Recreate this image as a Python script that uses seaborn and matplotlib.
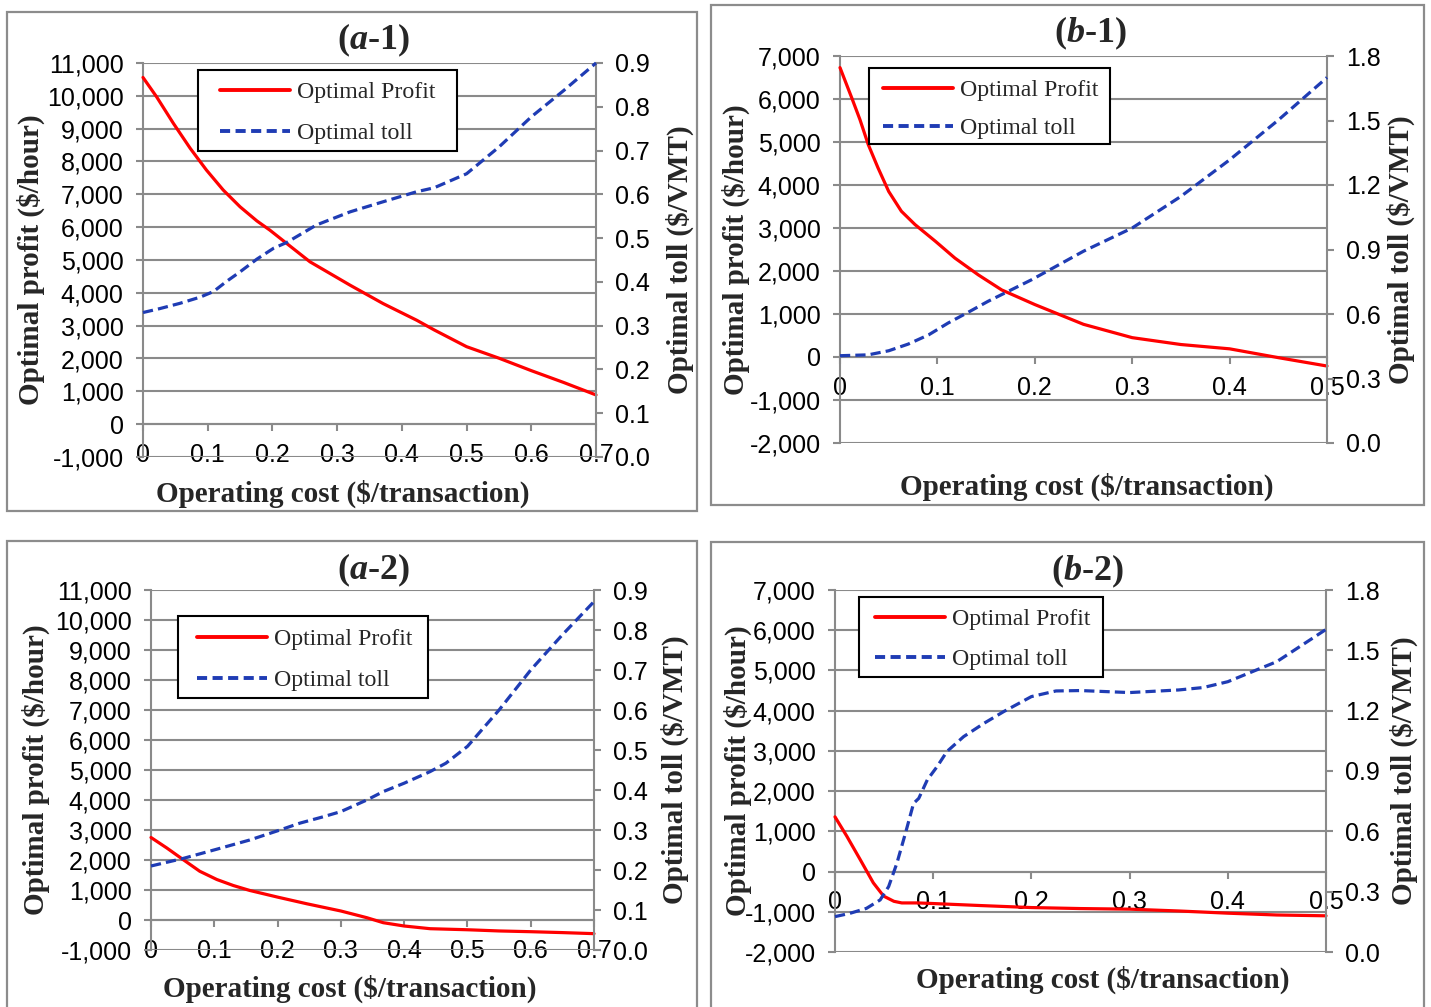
import numpy as np
import pandas as pd
import matplotlib
matplotlib.use("Agg")
import matplotlib.pyplot as plt
import seaborn as sns
from matplotlib.patches import Rectangle
from matplotlib.lines import Line2D
from matplotlib.ticker import FuncFormatter, MultipleLocator

# ---------------- data ----------------
# (a-1)
a1_cost = [0, 0.021, 0.047, 0.073, 0.098, 0.124, 0.15, 0.176, 0.196, 0.222, 0.258, 0.32,
           0.371, 0.423, 0.45, 0.5, 0.55, 0.6, 0.65, 0.7]
a1_profit = [10560, 9970, 9160, 8400, 7740, 7130, 6620, 6190, 5910, 5505, 4945, 4233,
             3673, 3165, 2870, 2360, 2010, 1630, 1270, 890]
a1_toll_cost = [0, 0.026, 0.057, 0.088, 0.109, 0.129, 0.15, 0.176, 0.202, 0.222, 0.268, 0.32,
                0.371, 0.423, 0.45, 0.5, 0.55, 0.6, 0.65, 0.7]
a1_toll = [0.330, 0.339, 0.351, 0.365, 0.378, 0.401, 0.423, 0.452, 0.477, 0.490, 0.530, 0.560,
           0.583, 0.606, 0.615, 0.647, 0.708, 0.777, 0.837, 0.900]

# (b-1)
b1_cost = [0, 0.012, 0.0205, 0.029, 0.039, 0.05, 0.063, 0.077, 0.098, 0.118, 0.142, 0.166, 0.2,
           0.25, 0.3, 0.35, 0.4, 0.45, 0.5]
b1_profit = [6730, 6030, 5520, 4940, 4400, 3850, 3390, 3080, 2690, 2300, 1910, 1560, 1220,
             760, 450, 290, 190, -15, -210]
b1_toll_cost = [0, 0.029, 0.05, 0.07, 0.091, 0.111, 0.132, 0.152, 0.173, 0.197, 0.25, 0.3,
                0.35, 0.4, 0.45, 0.5]
b1_toll = [0.406, 0.410, 0.429, 0.460, 0.503, 0.558, 0.609, 0.659, 0.706, 0.760, 0.892, 1.000,
           1.147, 1.317, 1.502, 1.700]

# (a-2)
a2_cost = [0, 0.025, 0.051, 0.077, 0.104, 0.13, 0.156, 0.2, 0.246, 0.3, 0.341, 0.367, 0.4,
           0.441, 0.5, 0.55, 0.6, 0.65, 0.7]
a2_profit = [2750, 2400, 2010, 1625, 1350, 1150, 985, 763, 542, 300, 77, -90, -200,
             -290, -325, -365, -390, -420, -455]
a2_toll_cost = [0, 0.051, 0.104, 0.156, 0.2, 0.235, 0.272, 0.3, 0.341, 0.367, 0.4, 0.441,
                0.466, 0.5, 0.55, 0.6, 0.65, 0.7]
a2_toll = [0.210, 0.229, 0.252, 0.275, 0.298, 0.317, 0.333, 0.346, 0.375, 0.396, 0.417, 0.446,
           0.467, 0.509, 0.600, 0.700, 0.788, 0.871]

# (b-2)
b2_cost = [0, 0.012, 0.0256, 0.039, 0.0495, 0.06, 0.068, 0.084, 0.1, 0.148, 0.2, 0.25, 0.3,
           0.35, 0.4, 0.45, 0.5]
b2_profit = [1360, 880, 300, -280, -610, -740, -780, -780, -795, -845, -895, -920, -935,
             -980, -1035, -1080, -1100]
b2_toll_cost = [0, 0.015, 0.032, 0.046, 0.0546, 0.063, 0.0717, 0.08, 0.0853, 0.094, 0.104,
                0.114, 0.131, 0.152, 0.172, 0.2, 0.225, 0.25, 0.3, 0.35, 0.375, 0.4, 0.45, 0.5]
b2_toll = [0.176, 0.192, 0.217, 0.259, 0.325, 0.441, 0.590, 0.739, 0.764, 0.856, 0.922, 0.997,
           1.071, 1.138, 1.196, 1.270, 1.298, 1.300, 1.290, 1.303, 1.315, 1.344, 1.444, 1.604]

legend_labels = ["Optimal Profit", "Optimal toll"]
xlabel_text = "Operating cost ($/transaction)"
ylabel_left = "Optimal profit ($/hour)"
ylabel_right = "Optimal toll ($/VMT)"

# ---------------- style ----------------
sns.set_theme(style="white")
plt.rcParams["font.family"] = ["Liberation Sans", "DejaVu Sans"]
plt.rcParams["mathtext.fontset"] = "custom"
plt.rcParams["mathtext.rm"] = "Liberation Serif"
plt.rcParams["mathtext.it"] = "Liberation Serif:italic"
plt.rcParams["mathtext.bf"] = "Liberation Serif:bold"
plt.rcParams["mathtext.bfit"] = "Liberation Serif:bold:italic"

GRID = "#8a8a8a"
RED = "#ff0000"
BLUE = "#1f3cb4"
SERIF = "Liberation Serif"
TICK_FS = 18
LAB_FS = 21
LEG_FS = 17.2

W, H = 1431, 1007
fig = plt.figure(figsize=(W / 100, H / 100), dpi=100)
fig.patch.set_facecolor("white")


def fx(px):
    return px / W


def fy(py):
    return 1 - py / H


def frame(x0, y0, x1, y1):
    fig.patches.append(Rectangle((fx(x0), fy(y1)), fx(x1) - fx(x0), fy(y0) - fy(y1),
                                 transform=fig.transFigure, fill=False,
                                 edgecolor="#8c8c8c", linewidth=1.6, zorder=0))


def comma(v, pos):
    s = "{:,.0f}".format(abs(v))
    return ("-" + s) if v < -1e-9 else s


def xfmt(v, pos):
    if abs(v) < 1e-9:
        return "0"
    return "{:.1f}".format(v)


panels = [
    dict(title="a", num="1", cost=a1_cost, profit=a1_profit, tcost=a1_toll_cost, toll=a1_toll,
         box=(143, 63, 596, 457), frame=(7, 12, 697, 511), xmax=0.7,
         ylim=(-1000, 11000), ystep=1000, rlim=(0, 0.9), rstep=0.1,
         leg=(198, 70, 457, 151, 220, 90, 131), lab_l=45, lab_r=666, xl=(343, 480), tt=(373, 40)),
    dict(title="b", num="1", cost=b1_cost, profit=b1_profit, tcost=b1_toll_cost, toll=b1_toll,
         box=(840, 56, 1327, 443), frame=(711, 5, 1424, 505), xmax=0.5,
         ylim=(-2000, 7000), ystep=1000, rlim=(0, 1.8), rstep=0.3,
         leg=(869, 68, 1110, 144, 883, 88, 126), lab_l=750, lab_r=1387, xl=(1087, 473), tt=(1090, 33)),
    dict(title="a", num="2", cost=a2_cost, profit=a2_profit, tcost=a2_toll_cost, toll=a2_toll,
         box=(151, 590, 594, 950), frame=(7, 541, 697, 1030), xmax=0.7,
         ylim=(-1000, 11000), ystep=1000, rlim=(0, 0.9), rstep=0.1,
         leg=(178, 616, 428, 698, 197, 637, 678), lab_l=50, lab_r=661, xl=(350, 975), tt=(373, 570)),
    dict(title="b", num="2", cost=b2_cost, profit=b2_profit, tcost=b2_toll_cost, toll=b2_toll,
         box=(835, 590, 1326, 952), frame=(711, 542, 1424, 1030), xmax=0.5,
         ylim=(-2000, 7000), ystep=1000, rlim=(0, 1.8), rstep=0.3,
         leg=(859, 597, 1103, 677, 875, 617, 657), lab_l=752, lab_r=1390, xl=(1103, 966), tt=(1087, 571)),
]

for p in panels:
    frame(*p["frame"])
    x0, y0, x1, y1 = p["box"]
    bw, bh = x1 - x0, y1 - y0

    def axx(px):
        return (px - x0) / bw

    def axy(py):
        return (y1 - py) / bh

    ax = fig.add_axes([fx(x0), fy(y1), fx(x1) - fx(x0), fy(y0) - fy(y1)])
    ax.set_facecolor("none")
    ax2 = ax.twinx()

    df_p = pd.DataFrame({"cost": p["cost"], "profit": p["profit"]})
    df_t = pd.DataFrame({"cost": p["tcost"], "toll": p["toll"]})
    sns.lineplot(data=df_p, x="cost", y="profit", ax=ax, color=RED, linewidth=2.3,
                 zorder=5, clip_on=False)
    sns.lineplot(data=df_t, x="cost", y="toll", ax=ax2, color=BLUE, linewidth=2.3,
                 zorder=5, clip_on=False)
    for ln in ax.lines + ax2.lines:
        ln.set_solid_joinstyle("round")
        ln.set_dash_joinstyle("round")
    ax2.lines[0].set_dashes((3.2, 1.6))

    ax.set_xlim(0, p["xmax"])
    ax.set_ylim(*p["ylim"])
    ax2.set_ylim(*p["rlim"])
    ax.yaxis.set_major_locator(MultipleLocator(p["ystep"]))
    ax.xaxis.set_major_locator(MultipleLocator(0.1))
    ax2.yaxis.set_major_locator(MultipleLocator(p["rstep"]))
    ax.yaxis.set_major_formatter(FuncFormatter(comma))
    ax.xaxis.set_major_formatter(FuncFormatter(xfmt))
    ax2.yaxis.set_major_formatter(FuncFormatter(lambda v, pos: "{:.1f}".format(v)))

    ax.grid(True, axis="y", color=GRID, linewidth=1.5)
    ax.grid(False, axis="x")
    ax2.grid(False)
    ax.set_axisbelow(True)

    for s in ["top", "right"]:
        ax.spines[s].set_visible(False)
    for s in ["top", "left", "bottom"]:
        ax2.spines[s].set_visible(False)
    ax.spines["left"].set_color(GRID)
    ax.spines["left"].set_linewidth(1.5)
    ax.spines["bottom"].set_position(("data", 0))
    ax.spines["bottom"].set_color(GRID)
    ax.spines["bottom"].set_linewidth(1.5)
    ax2.spines["right"].set_color(GRID)
    ax2.spines["right"].set_linewidth(1.5)

    ax.tick_params(axis="y", direction="out", length=5, width=1.5, color=GRID,
                   pad=9, labelsize=TICK_FS, labelcolor="black", left=True)
    ax.tick_params(axis="x", direction="out", length=5, width=1.5, color=GRID,
                   pad=8.5, labelsize=TICK_FS, labelcolor="black", bottom=True)
    ax2.tick_params(axis="y", direction="out", length=5, width=1.5, color=GRID,
                    pad=9, labelsize=TICK_FS, labelcolor="black", right=True)

    ax.set_xlabel(xlabel_text, fontfamily=SERIF, fontweight="bold", fontsize=LAB_FS)
    ax.xaxis.set_label_coords(axx(p["xl"][0]), axy(p["xl"][1]))
    ax.set_ylabel(ylabel_left, fontfamily=SERIF, fontweight="bold", fontsize=LAB_FS)
    ax.yaxis.set_label_coords(axx(p["lab_l"]), 0.5)
    ax2.set_ylabel(ylabel_right, fontfamily=SERIF, fontweight="bold", fontsize=LAB_FS)
    ax2.yaxis.set_label_coords(axx(p["lab_r"]), 0.5)

    title = r"$\mathbf{(}\mathbfit{" + p["title"] + r"}\mathbf{‐" + p["num"] + r")}$"
    ax.text(axx(p["tt"][0]), axy(p["tt"][1]), title, transform=ax.transAxes, ha="center",
            va="center", fontsize=26)

    # legend box
    lx0, ly0, lx1, ly1, hx, r1, r2 = p["leg"]
    ax2.add_patch(Rectangle((axx(lx0), axy(ly1)), axx(lx1) - axx(lx0), axy(ly0) - axy(ly1),
                            transform=ax2.transAxes, facecolor="white", edgecolor="black",
                            linewidth=1.5, zorder=9, clip_on=False))
    fs_px = LEG_FS * 100 / 72
    top_px = r1 - 0.37 * fs_px
    lspace = 0.56 + ((r2 - r1) - 35) / fs_px
    handles = [Line2D([], [], color=RED, linewidth=2.8),
               Line2D([], [], color=BLUE, linewidth=2.8, dashes=(2.6, 1.4))]
    leg = ax2.legend(handles, legend_labels, loc="upper left",
                     bbox_to_anchor=(axx(hx), axy(top_px)),
                     frameon=False, prop={"family": SERIF, "size": LEG_FS},
                     handlelength=70 / fs_px, handletextpad=0.3, labelspacing=lspace,
                     borderpad=0, borderaxespad=0)
    leg.set_zorder(10)

fig.savefig("out.png", dpi=100, facecolor="white")
